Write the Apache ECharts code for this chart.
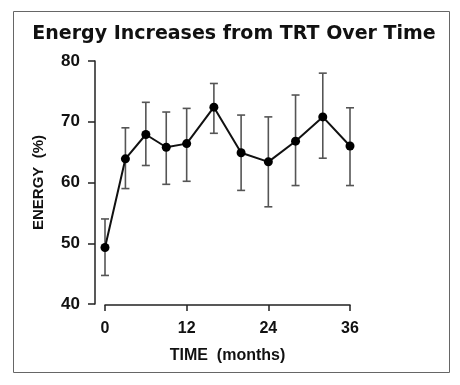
<!DOCTYPE html>
<html>
<head>
<meta charset="utf-8">
<style>html,body{margin:0;padding:0;background:#fff;}#c{width:460px;height:385px;}</style>
<script src="https://cdn.jsdelivr.net/npm/echarts@6/dist/echarts.min.js"></script>
</head>
<body>
<div id="c"></div>
<script>
var months = [0, 3, 6, 9, 12, 16, 20, 24, 28, 32, 36];
var energy = [49.3, 63.9, 67.9, 65.8, 66.4, 72.4, 64.9, 63.4, 66.8, 70.8, 66.0];
var errHigh = [54.0, 69.0, 73.2, 71.6, 72.2, 76.3, 71.1, 70.8, 74.4, 78.0, 72.3];
var errLow = [44.7, 59.0, 62.8, 59.7, 60.2, 68.1, 58.7, 56.0, 59.5, 64.0, 59.5];
var titleText = 'Energy Increases from TRT Over Time';
var xName = 'TIME  (months)';
var yName = 'ENERGY  (%)';

var lineData = months.map(function (m, i) { return [m, energy[i]]; });
var errData = months.map(function (m, i) { return [m, errLow[i], errHigh[i]]; });

var chart = echarts.init(document.getElementById('c'), null, {renderer: 'canvas'});
chart.setOption({
  animation: false,
  backgroundColor: '#ffffff',
  title: {
    text: titleText,
    left: 229, top: 20, textAlign: 'center',
    textStyle: {fontFamily: 'DejaVu Sans', fontWeight: 'bold', fontSize: 19, color: '#111'}
  },
  graphic: [{
    type: 'rect', shape: {x: 13.5, y: 11.5, width: 436, height: 361},
    style: {fill: 'none', stroke: '#666', lineWidth: 1}, silent: true
  }],
  grid: {left: 105, right: 110, top: 61, bottom: 81},
  xAxis: {
    type: 'value', min: 0, max: 36, interval: 12, offset: 1,
    name: xName, nameLocation: 'middle', nameGap: 43,
    nameTextStyle: {fontFamily: 'Liberation Sans', fontWeight: 'bold', fontSize: 16, color: '#111'},
    axisLine: {onZero: false, lineStyle: {color: '#222', width: 1.5}},
    axisTick: {show: true, length: 6, lineStyle: {color: '#222', width: 1.5}},
    axisLabel: {margin: 16, fontFamily: 'Liberation Sans', fontWeight: 'bold', fontSize: 16, color: '#111'},
    splitLine: {show: false}
  },
  yAxis: {
    type: 'value', min: 40, max: 80, interval: 10, offset: 10,
    name: yName, nameLocation: 'middle', nameGap: 49, nameRotate: 90,
    nameTextStyle: {fontFamily: 'Liberation Sans', fontWeight: 'bold', fontSize: 15, color: '#111'},
    axisLine: {show: true, onZero: false, lineStyle: {color: '#222', width: 1.5}},
    axisTick: {show: true, length: 7, lineStyle: {color: '#222', width: 1.5}},
    axisLabel: {margin: 15, fontFamily: 'Liberation Sans', fontWeight: 'bold', fontSize: 17, color: '#111'},
    splitLine: {show: false}
  },
  series: [{
    type: 'custom',
    data: errData,
    z: 1,
    clip: false,
    renderItem: function (params, api) {
      var x = api.value(0);
      var lo = api.coord([x, api.value(1)]);
      var hi = api.coord([x, api.value(2)]);
      var hw = 4;
      var st = {stroke: '#555', lineWidth: 1.6};
      return {
        type: 'group',
        children: [
          {type: 'line', shape: {x1: lo[0], y1: lo[1], x2: hi[0], y2: hi[1]}, style: st},
          {type: 'line', shape: {x1: lo[0] - hw, y1: lo[1], x2: lo[0] + hw, y2: lo[1]}, style: st},
          {type: 'line', shape: {x1: hi[0] - hw, y1: hi[1], x2: hi[0] + hw, y2: hi[1]}, style: st}
        ]
      };
    }
  }, {
    type: 'line',
    data: lineData,
    z: 3,
    symbol: 'circle', symbolSize: 9,
    lineStyle: {color: '#111', width: 2},
    itemStyle: {color: '#000'}
  }]
});
</script>
</body>
</html>
